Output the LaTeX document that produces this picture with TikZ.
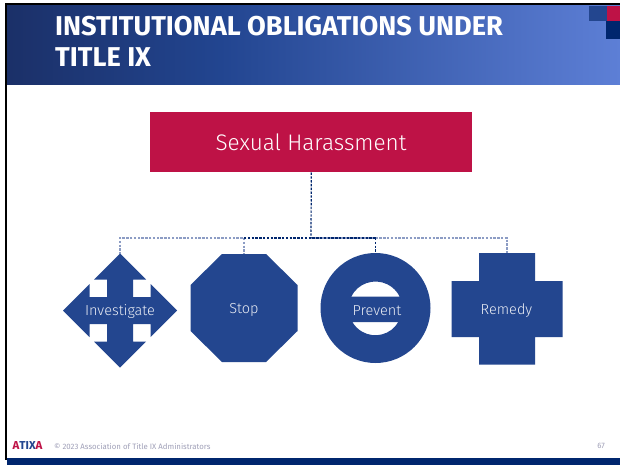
\documentclass[tikz,border=0pt]{standalone}
\usepackage{fontspec}
\setmainfont{Fira Sans}
\newfontfamily\lightface{Fira Sans Light}
\usetikzlibrary{shapes.geometric}
\definecolor{navy}{HTML}{23468F}
\definecolor{deep}{HTML}{00266E}
\definecolor{crimson}{HTML}{BE1246}
\definecolor{hdA}{HTML}{1B3068}
\definecolor{hdB}{HTML}{224590}
\definecolor{hdC}{HTML}{5D7FD6}
\definecolor{lnk}{HTML}{8C9CC4}
\definecolor{foot}{HTML}{A0A0B8}
\tikzset{
  shapefill/.style={fill=navy,draw=none},
  lbl/.style={text=white!90!navy,anchor=base,font=\fontsize{14.5}{15}\lightface,inner sep=0pt},
  titletext/.style={anchor=base west,inner sep=0pt,text=white,font=\fontsize{27.2}{27}\selectfont\bfseries},
  foottext/.style={inner sep=0pt,text=foot,font=\fontsize{7.8}{8}\selectfont},
  linkdark/.style={draw=deep,line width=1.2pt,dash pattern=on 2.4pt off 1.4pt},
  linklight/.style={draw=lnk,line width=1.2pt,dash pattern=on 2.4pt off 1.4pt},
}
\begin{document}
\begin{tikzpicture}[x=1pt,y=-1pt]
\useasboundingbox (0,0) rectangle (620,465);
\fill[white] (0,0) rectangle (620,465);
% frame
\fill[black] (5,3) rectangle (620,6);
\fill[black] (5,3) rectangle (7,460);
% header
\fill[left color=hdA,right color=hdB] (7,6) rectangle (220,85);
\fill[left color=hdB,right color=hdC] (220,6) rectangle (620,85);
\fill[navy] (589,6) rectangle (607,21);
\fill[crimson] (607,6) rectangle (620,21);
\fill[deep] (606,21) rectangle (620,39);
\node[titletext] (t1) at (55,36) {INSTITUTIONAL OBLIGATIONS UNDER};
\node[titletext] (t2) at (55,67) {TITLE IX};
% top box
\node[fill=crimson,minimum width=322pt,minimum height=60.6pt,inner sep=0pt] (sh) at (311.3,142) {};
\node[anchor=base,inner sep=0pt,text=white,font=\fontsize{22.5}{22}\lightface] (shl) at (311,150) {Sexual Harassment};
% hub coordinates
\coordinate (hub) at (311,238);
\coordinate (e1) at (120,238);
\coordinate (e2) at (244,238);
\coordinate (e3) at (375.5,238);
\coordinate (e4) at (507,238);
% shapes
\fill[shapefill] (120,253.5) -- (146,279.5) -- (133,279.5) -- (133,297) -- (150.5,297) -- (150.5,284) -- (177,310.5) -- (150.5,337) -- (150.5,324) -- (133,324) -- (133,341.5) -- (146,341.5) -- (120,367.5) -- (94,341.5) -- (107,341.5) -- (107,324) -- (89.5,324) -- (89.5,337) -- (63,310.5) -- (89.5,284) -- (89.5,297) -- (107,297) -- (107,279.5) -- (94,279.5) -- cycle;
\node[lbl] (inv) at (120,315.7) {Investigate};
\coordinate (invtop) at (120,253.5);
\fill[shapefill] (222,254) -- (266,254) -- (297.5,285) -- (297.5,331) -- (266,362) -- (222,362) -- (190.5,331) -- (190.5,285) -- cycle;
\node[lbl] (stop) at (244,313.3) {Stop};
\coordinate (stoptop) at (244,254);
\fill[shapefill,even odd rule] (375.5,308) circle[radius=55]
  (351.2,296.7) arc[start angle=206,end angle=334,radius=27] -- cycle
  (398.3,322) arc[start angle=30,end angle=150,radius=26.5] -- cycle;
\node[lbl] (prev) at (377,315) {Prevent};
\coordinate (prevtop) at (375.5,253);
\fill[shapefill] (479,253) -- (535,253) -- (535,281) -- (562.5,281) -- (562.5,337) -- (535,337) -- (535,364.5) -- (479,364.5) -- (479,337) -- (451.5,337) -- (451.5,281) -- (479,281) -- cycle;
\node[lbl] (rem) at (506.5,314) {Remedy};
\coordinate (remtop) at (507,253);
% connectors
\draw[linklight] (hub) -- (e1) -- (invtop);
\draw[linklight] (hub) -- (e4) -- (remtop);
\draw[linklight] (e2) -- (stoptop);
\draw[linkdark] (e3) -- (prevtop);
\draw[linkdark] (e2) -- (e3);
\draw[linkdark] (sh.south) -- (hub);
% footer
\fill[deep] (7,458) rectangle (620,465);
\node[anchor=west,inner sep=0pt,font=\fontsize{11.5}{12}\selectfont\bfseries] (logo) at (12.5,445.5) {\textcolor{crimson}{A}\textcolor{navy}{TIX}\textcolor{crimson}{A}};
\node[foottext,anchor=west] (cp) at (54,446) {© 2023 Association of Title IX Administrators};
\node[foottext,anchor=center] (pg) at (601,446) {67};
\end{tikzpicture}
\end{document}
